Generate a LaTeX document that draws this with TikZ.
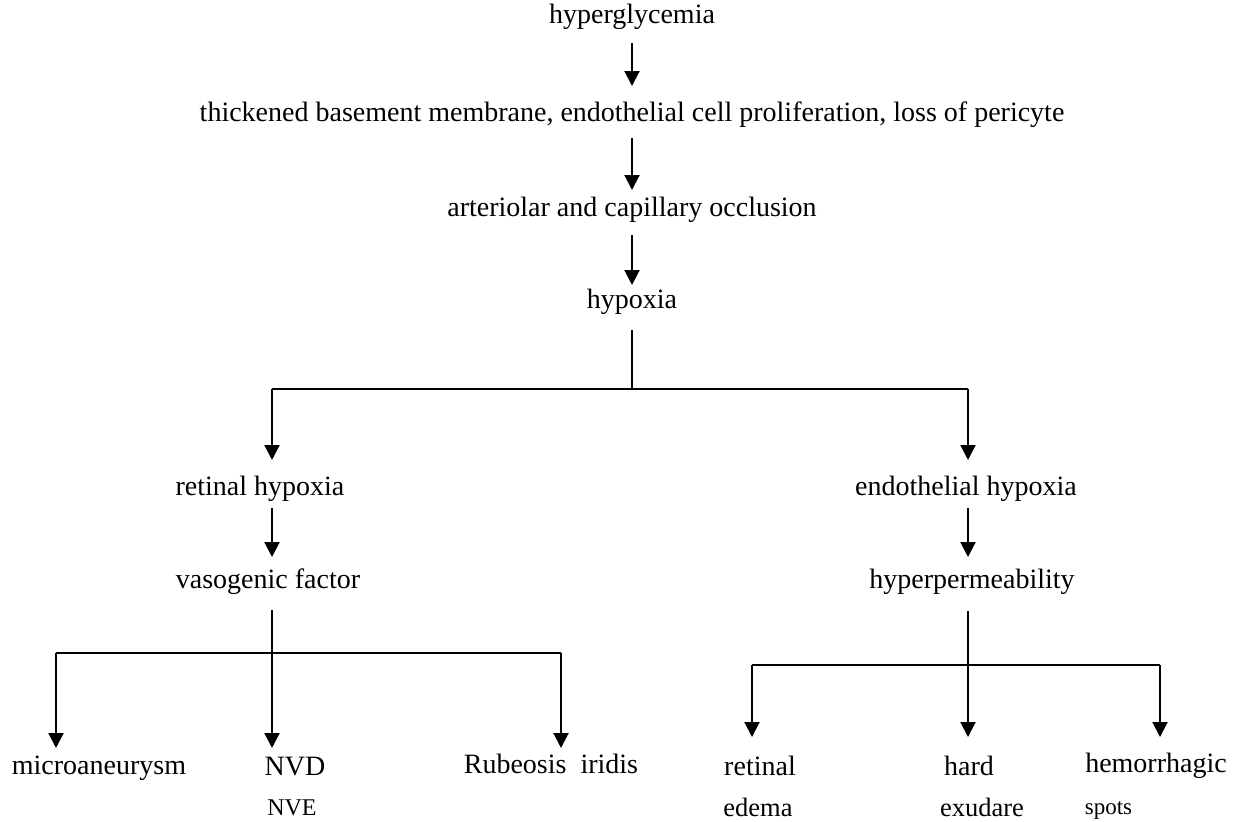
\documentclass[tikz,border=0pt]{standalone}
\usepackage{fontspec}
\setmainfont{Liberation Serif}
\usetikzlibrary{arrows.meta,calc}
\begin{document}
\begin{tikzpicture}[x=0.5pt,y=-0.5pt,
  lbl/.style={anchor=base,inner sep=0pt,font=\fontsize{14}{16}\selectfont},
  sml/.style={anchor=base,inner sep=0pt,font=\fontsize{13.25}{15}\selectfont},
  nvefont/.style={anchor=base,inner sep=0pt,font=\fontsize{12}{14}\selectfont},
  spotsfont/.style={anchor=base,inner sep=0pt,font=\fontsize{11.5}{13}\selectfont},
  ln/.style={line width=1pt},
  arr/.style={ln,-{Triangle[width=7.5pt,length=7.5pt]}}]
\useasboundingbox (0,0) rectangle (1242,821);
% top chain
\node[lbl] (hg) at (632,23) {hyperglycemia};
\node[lbl] (th) at (632,121) {thickened basement membrane, endothelial cell proliferation, loss of pericyte};
\node[lbl] (ac) at (632,216) {arteriolar and capillary occlusion};
\node[lbl] (hx) at (632,308) {hypoxia};
% middle
\node[lbl] (rh) at (260,495) {retinal hypoxia};
\node[lbl] (eh) at (966,495) {endothelial hypoxia};
\node[lbl] (vf) at (268,588) {vasogenic factor};
\node[lbl] (hp) at (972,588) {hyperpermeability};
% bottom
\node[lbl] (ma) at (99,774) {microaneurysm};
\node[lbl] (nvd) at (295,775) {NVD};
\node[nvefont] (nve) at (292,815) {NVE};
\node[lbl] (ri) at (551,773) {Rubeosis\ \ iridis};
\node[lbl] (rt) at (760,775) {retinal};
\node[sml] (ed) at (758,816) {edema};
\node[lbl] (hd) at (969,775) {hard};
\node[sml] (ex) at (982,816) {exudare};
\node[lbl] (hm) at (1156,772) {hemorrhagic};
\node[spotsfont] (sp) at (1108.5,814) {spots};
% coordinates
\coordinate (j0) at (632,389);
\coordinate (jl) at (272,389);
\coordinate (jr) at (968,389);
\coordinate (trh) at (272,460);
\coordinate (teh) at (968,460);
\coordinate (vl0) at (272,610);
\coordinate (vla) at (56,653);
\coordinate (vlb) at (561,653);
\coordinate (tma) at (56,748);
\coordinate (tnvd) at (272,748);
\coordinate (tri) at (561,748);
\coordinate (hp0) at (968,611);
\coordinate (hpa) at (752,665);
\coordinate (hpb) at (1160,665);
\coordinate (trt) at (752,737);
\coordinate (thd) at (968,737);
\coordinate (thm) at (1160,737);
% top arrows
\draw[arr] ($(hg.base)+(0,20)$) -- ($(th.base)+(0,-35)$);
\draw[arr] ($(th.base)+(0,17)$) -- ($(ac.base)+(0,-26)$);
\draw[arr] ($(ac.base)+(0,19)$) -- ($(hx.base)+(0,-23)$);
% branch from hypoxia
\draw[ln] ($(hx.base)+(0,22)$) -- (j0);
\draw[ln] (jl) -- (jr);
\draw[arr] (jl) -- (trh);
\draw[arr] (jr) -- (teh);
% middle arrows
\draw[arr] ($(rh.base)+(12,13)$) -- ($(vf.base)+(4,-31)$);
\draw[arr] ($(eh.base)+(2,13)$) -- ($(hp.base)+(-4,-31)$);
% left lower branch
\draw[ln] (vla) -- (vlb);
\draw[arr] (vl0) -- (tnvd);
\draw[arr] (vla) -- (tma);
\draw[arr] (vlb) -- (tri);
% right lower branch
\draw[ln] (hpa) -- (hpb);
\draw[arr] (hp0) -- (thd);
\draw[arr] (hpa) -- (trt);
\draw[arr] (hpb) -- (thm);
\end{tikzpicture}
\end{document}
